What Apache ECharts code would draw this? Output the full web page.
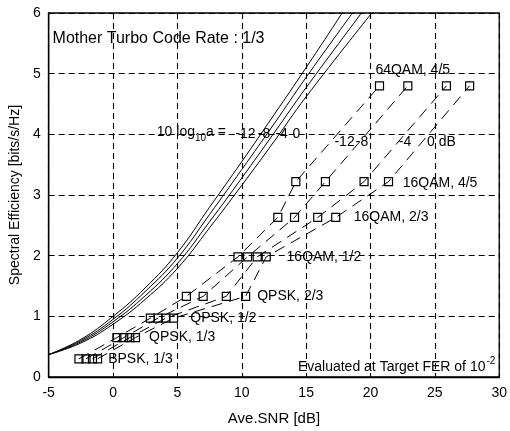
<!DOCTYPE html>
<html><head><meta charset="utf-8">
<script src="https://cdn.jsdelivr.net/npm/echarts@6/dist/echarts.min.js"></script>
<style>html,body{margin:0;padding:0;background:#fff}#c{width:510px;height:431px}</style>
</head><body><div id="c"></div>
<script>
// Solid capacity-like curves for 10log10(a) = -12, -8, -4, 0 dB
const capX_m12 = [-5, -2.5, 0, 2.5, 5, 7.5, 10, 12.5, 15, 17.8];
const capY_m12 = [0.37, 0.62, 1.0, 1.47, 2.05, 2.8, 3.55, 4.32, 5.1, 6.0];
const capX_m8 = [-5, -2.5, 0, 2.5, 5, 7.5, 10, 12.5, 15, 18.6];
const capY_m8 = [0.37, 0.6, 0.95, 1.41, 1.96, 2.68, 3.42, 4.17, 4.94, 6.0];
const capX_m4 = [-5, -2.5, 0, 2.5, 5, 7.5, 10, 12.5, 15, 19.3];
const capY_m4 = [0.37, 0.58, 0.91, 1.34, 1.87, 2.56, 3.28, 4.02, 4.77, 6.0];
const capX_0 = [-5, -2.5, 0, 2.5, 5, 7.5, 10, 12.5, 15, 20.1];
const capY_0 = [0.37, 0.56, 0.87, 1.28, 1.79, 2.46, 3.16, 3.88, 4.62, 6.0];

// MCS set and spectral efficiency at target FER
const mcsNames = ['BPSK, 1/3', 'QPSK, 1/3', 'QPSK, 1/2', 'QPSK, 2/3', '16QAM, 1/2', '16QAM, 2/3', '16QAM, 4/5', '64QAM, 4/5'];
const mcsEff = [0.3, 0.65, 0.97, 1.33, 1.98, 2.63, 3.22, 4.8];
// Required average SNR per MCS for each a
const snrReq_m12 = [-2.65, 0.3, 2.9, 5.7, 9.7, 12.8, 14.2, 20.7];
const snrReq_m8 = [-2.1, 0.83, 3.5, 7.0, 10.45, 14.1, 16.5, 22.9];
const snrReq_m4 = [-1.6, 1.3, 4.1, 8.8, 11.2, 15.9, 19.5, 25.9];
const snrReq_0 = [-1.2, 1.74, 4.7, 10.3, 11.9, 17.3, 21.4, 27.7];

const xTicks = [-5, 0, 5, 10, 15, 20, 25, 30];
const yTicks = [0, 1, 2, 3, 4, 5, 6];

const FONT = 'Liberation Sans, Arial, sans-serif';
const zip = (xs, ys) => xs.map((x, i) => [x, ys[i]]);

const chart = echarts.init(document.getElementById('c'), null, {renderer: 'canvas'});

const capSeries = [[capX_m12, capY_m12], [capX_m8, capY_m8], [capX_m4, capY_m4], [capX_0, capY_0]].map(([xs, ys]) => ({
  type: 'line', data: zip(xs, ys), smooth: 0.45, symbol: 'none', clip: true,
  lineStyle: {color: '#000', width: 1}, silent: true, z: 3
}));
const mcsSeries = [snrReq_m12, snrReq_m8, snrReq_m4, snrReq_0].map(xs => ({
  type: 'line', data: zip(xs, mcsEff), symbol: 'rect', symbolSize: 8, showSymbol: true,
  lineStyle: {color: '#000', width: 1, type: [11, 7]},
  itemStyle: {color: 'rgba(0,0,0,0)', borderColor: '#000', borderWidth: 1.2}, z: 4
}));

chart.setOption({
  animation: false,
  backgroundColor: '#fff',
  grid: {left: 39, right: 9, top: 13, bottom: 46, show: true, borderColor: '#000', borderWidth: 1.3, backgroundColor: 'rgba(0,0,0,0)'},
  xAxis: {
    type: 'value', min: xTicks[0], max: xTicks[xTicks.length - 1], interval: 5,
    name: 'Ave.SNR [dB]', nameLocation: 'middle', nameGap: 34,
    nameTextStyle: {color: '#000', fontSize: 15, fontFamily: FONT},
    axisLine: {onZero: false, lineStyle: {color: '#000', width: 1.3}},
    axisTick: {inside: true, length: 4, lineStyle: {color: '#000'}},
    axisLabel: {color: '#000', fontSize: 14, fontFamily: FONT, margin: 9},
    splitLine: {show: true, lineStyle: {color: '#000', width: 1.1, type: [6, 4]}}
  },
  yAxis: {
    type: 'value', min: yTicks[0], max: yTicks[yTicks.length - 1], interval: 1,
    name: 'Spectral Efficiency [bits/s/Hz]', nameLocation: 'middle', nameGap: 23,
    nameTextStyle: {color: '#000', fontSize: 14, fontFamily: FONT},
    axisLine: {onZero: false, lineStyle: {color: '#000', width: 1.3}},
    axisTick: {inside: true, length: 4, lineStyle: {color: '#000'}},
    axisLabel: {color: '#000', fontSize: 14, fontFamily: FONT, margin: 8},
    splitLine: {show: true, lineStyle: {color: '#000', width: 1.1, type: [6, 4]}}
  },
  series: capSeries.concat(mcsSeries)
});

// Annotations in data coordinates: [text, x, y, align, fontSize]
const notes = [
  ['Mother Turbo Code Rate : 1/3', -4.7, 5.58, 'left', 16],
  ['-12', 9.5, 4.0, 'left', 14], ['-8', 11.25, 4.0, 'left', 14], ['-4', 12.6, 4.0, 'left', 14], ['0', 13.95, 4.0, 'left', 14],
  ['-12', 17.2, 3.87, 'left', 14], ['-8', 18.86, 3.87, 'left', 14], ['-4', 22.2, 3.87, 'left', 14], ['0 dB', 24.39, 3.87, 'left', 14],
  [mcsNames[7], 20.38, 5.06, 'left', 14],
  [mcsNames[6], 22.5, 3.19, 'left', 14],
  [mcsNames[5], 18.7, 2.63, 'left', 14],
  [mcsNames[4], 13.48, 1.98, 'left', 14],
  [mcsNames[3], 11.2, 1.34, 'left', 14],
  [mcsNames[2], 6.0, 0.97, 'left', 14],
  [mcsNames[1], 2.8, 0.65, 'left', 14],
  [mcsNames[0], -0.38, 0.29, 'left', 14]
];
const g = notes.map(([t, x, y, al, fs]) => {
  const p = chart.convertToPixel({gridIndex: 0}, [x, y]);
  return {type: 'text', z: 10, x: p[0], y: p[1], style: {text: t, fill: '#000', font: fs + 'px ' + FONT, align: al, verticalAlign: 'middle'}};
});
(function () {
  const p = chart.convertToPixel({gridIndex: 0}, [3.4, 4.0]);
  g.push({type: 'text', z: 10, x: p[0], y: p[1], style: {
    text: '{n|10 log}{s|10}{n|a =}', align: 'left', verticalAlign: 'middle',
    rich: {n: {fontSize: 14, fontFamily: FONT, fill: '#000', lineHeight: 18, verticalAlign: 'top'},
           s: {fontSize: 10, fontFamily: FONT, fill: '#000', lineHeight: 18, verticalAlign: 'bottom', padding: [8, 0, 0, 0]}}
  }});
  const q = chart.convertToPixel({gridIndex: 0}, [29.7, 0.19]);
  g.push({type: 'text', z: 10, x: q[0], y: q[1], style: {
    text: '{n|Evaluated at Target FER of 10}{s|-2}', align: 'right', verticalAlign: 'middle',
    rich: {n: {fontSize: 14, fontFamily: FONT, fill: '#000', lineHeight: 18, verticalAlign: 'bottom'},
           s: {fontSize: 10, fontFamily: FONT, fill: '#000', lineHeight: 18, verticalAlign: 'top', padding: [0, 0, 8, 1]}}
  }});
})();
chart.setOption({graphic: g});
</script>
</body></html>
